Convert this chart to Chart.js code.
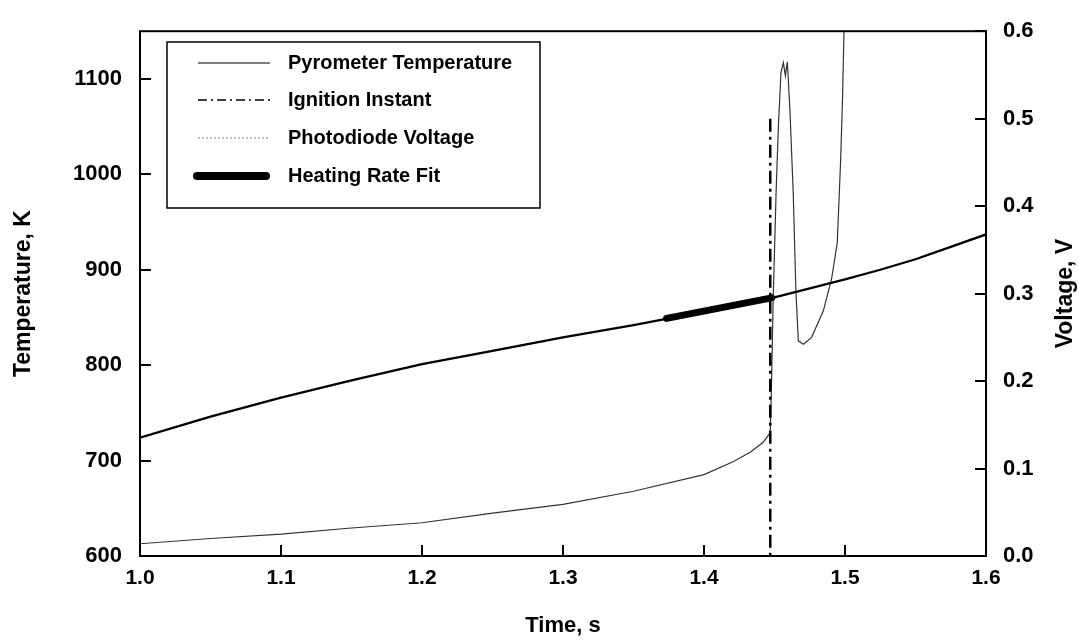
<!DOCTYPE html>
<html>
<head>
<meta charset="utf-8">
<script src="https://cdn.jsdelivr.net/npm/chart.js@4/dist/chart.umd.min.js"></script>
<style>
  html, body { margin: 0; padding: 0; background: #fff; }
  #wrap { width: 1079px; height: 641px; }
</style>
</head>
<body>
<div id="wrap"><canvas id="ignitionChart" width="1079" height="641"></canvas></div>
<script>
// pyrometer temperature, K
const tempTime = [1.00, 1.05, 1.10, 1.15, 1.20, 1.25, 1.30, 1.35, 1.40, 1.45, 1.50, 1.525, 1.55, 1.575, 1.60];
const tempValues = [724, 746, 766, 784, 801, 815, 829, 842, 856, 871, 890, 900, 911, 924, 937];

// photodiode voltage, V
const diodeTime = [1.000, 1.050, 1.100, 1.150, 1.200, 1.250, 1.300, 1.350, 1.400, 1.421, 1.433, 1.442, 1.447,
  1.4479, 1.4490, 1.4511, 1.4527, 1.4546, 1.4563, 1.4577, 1.4591, 1.4610, 1.4633, 1.4652, 1.4669,
  1.4705, 1.4763, 1.4846, 1.4905, 1.4945, 1.4969, 1.4983, 1.4993, 1.5000];
const diodeValues = [0.014, 0.020, 0.025, 0.032, 0.038, 0.049, 0.059, 0.074, 0.093, 0.108, 0.119, 0.130, 0.141,
  0.197, 0.290, 0.414, 0.489, 0.553, 0.564, 0.549, 0.565, 0.508, 0.414, 0.302, 0.246,
  0.242, 0.250, 0.280, 0.317, 0.358, 0.452, 0.526, 0.602, 0.680];

// heating rate fit (on temperature axis)
const fitTime = [1.3735, 1.448];
const fitValues = [849, 870.5];

// ignition instant marker (on voltage axis), drawn top-down
const ignitionTime = [1.447, 1.447];
const ignitionVolts = [0.5, 0];

const seriesLabels = ['Pyrometer Temperature', 'Ignition Instant', 'Photodiode Voltage', 'Heating Rate Fit'];

const toPoints = (xs, ys) => xs.map((x, i) => ({ x: x, y: ys[i] }));

const FONT = 'Arial, "Liberation Sans", Helvetica, sans-serif';
Chart.defaults.font.family = FONT;
Chart.defaults.font.weight = 'bold';
Chart.defaults.color = '#000';

// legend look for each entry (photodiode legend is drawn dotted/grey like the original)
const legendStyle = [
  { color: '#000', width: 1.2, dash: [] },
  { color: '#000', width: 1.5, dash: [9, 4, 2, 4] },
  { color: '#999', width: 1.2, dash: [2, 2] },
  { color: '#000', width: 8, dash: [] }
];

const framePlugin = {
  id: 'frame',
  afterDatasetsDraw(chart) {
    const { ctx, chartArea: a, scales } = chart;
    ctx.save();
    ctx.strokeStyle = '#000';
    ctx.lineWidth = 2;
    ctx.strokeRect(a.left, a.top, a.right - a.left, a.bottom - a.top);

    // inward tick marks
    ctx.beginPath();
    scales.x.ticks.forEach(t => {
      const px = Math.round(scales.x.getPixelForValue(t.value));
      ctx.moveTo(px, a.bottom); ctx.lineTo(px, a.bottom - 11);
    });
    scales.yT.ticks.forEach(t => {
      const py = Math.round(scales.yT.getPixelForValue(t.value));
      ctx.moveTo(a.left, py); ctx.lineTo(a.left + 11, py);
    });
    scales.yV.ticks.forEach(t => {
      const py = Math.round(scales.yV.getPixelForValue(t.value));
      ctx.moveTo(a.right, py); ctx.lineTo(a.right - 11, py);
    });
    ctx.stroke();

    // right axis title, reads bottom to top
    ctx.save();
    ctx.translate(1066, (a.top + a.bottom) / 2);
    ctx.rotate(-Math.PI / 2);
    ctx.font = 'bold 23px ' + FONT;
    ctx.fillStyle = '#000';
    ctx.textAlign = 'center';
    ctx.textBaseline = 'middle';
    ctx.fillText('Voltage, V', 0, 0);
    ctx.restore();

    // legend box
    const box = { x: 167, y: 42, w: 373, h: 166 };
    ctx.fillStyle = '#fff';
    ctx.fillRect(box.x, box.y, box.w, box.h);
    ctx.lineWidth = 1.5;
    ctx.strokeRect(box.x, box.y, box.w, box.h);
    const rows = [63, 100, 138, 176];
    ctx.font = 'bold 20px ' + FONT;
    ctx.textAlign = 'left';
    ctx.textBaseline = 'middle';
    seriesLabels.forEach((label, i) => {
      const st = legendStyle[i];
      ctx.beginPath();
      ctx.strokeStyle = st.color;
      ctx.lineWidth = st.width;
      ctx.lineCap = i === 3 ? 'round' : 'butt';
      ctx.setLineDash(st.dash);
      ctx.moveTo(i === 3 ? 197 : 198, rows[i]);
      ctx.lineTo(i === 3 ? 266 : 270, rows[i]);
      ctx.stroke();
      ctx.setLineDash([]);
      ctx.fillStyle = '#000';
      ctx.fillText(label, 288, rows[i]);
    });
    ctx.restore();
  }
};

new Chart(document.getElementById('ignitionChart'), {
  type: 'line',
  data: {
    datasets: [
      {
        label: seriesLabels[0],
        data: toPoints(tempTime, tempValues),
        yAxisID: 'yT',
        borderColor: '#000',
        borderWidth: 2.3,
        pointRadius: 0
      },
      {
        label: seriesLabels[1],
        data: toPoints(ignitionTime, ignitionVolts),
        yAxisID: 'yV',
        borderColor: '#000',
        borderWidth: 2.5,
        borderDash: [13, 5, 3, 5],
        pointRadius: 0
      },
      {
        label: seriesLabels[2],
        data: toPoints(diodeTime, diodeValues),
        yAxisID: 'yV',
        borderColor: '#333',
        borderWidth: 1.2,
        pointRadius: 0,
        clip: 0
      },
      {
        label: seriesLabels[3],
        data: toPoints(fitTime, fitValues),
        yAxisID: 'yT',
        borderColor: '#000',
        borderWidth: 7,
        borderCapStyle: 'round',
        pointRadius: 0
      }
    ]
  },
  options: {
    responsive: false,
    animation: false,
    layout: { padding: { top: 22, left: 0, right: 0, bottom: 0 } },
    plugins: { legend: { display: false }, tooltip: { enabled: false } },
    elements: { line: { tension: 0, fill: false } },
    scales: {
      x: {
        type: 'linear',
        position: 'bottom',
        min: 1.0,
        max: 1.6,
        grid: { display: false, drawTicks: false },
        border: { display: false },
        ticks: {
          stepSize: 0.1,
          autoSkip: false,
          maxRotation: 0,
          padding: 10,
          font: { size: 21, weight: 'bold' },
          callback: v => v.toFixed(1)
        },
        title: {
          display: true,
          text: 'Time, s',
          font: { size: 22, weight: 'bold' },
          padding: { top: 0, bottom: 2 }
        },
        afterFit: s => { s.height = 85; }
      },
      yT: {
        type: 'linear',
        position: 'left',
        min: 600,
        max: 1150,
        grid: { display: false, drawTicks: false },
        border: { display: false },
        ticks: {
          stepSize: 100,
          padding: 18,
          font: { size: 22, weight: 'bold' },
          callback: v => String(v)
        },
        afterBuildTicks: s => { s.ticks = s.ticks.filter(t => Math.abs(t.value % 100) < 1e-6); },
        title: {
          display: true,
          text: 'Temperature, K',
          font: { size: 23, weight: 'bold' },
          padding: { top: 10, bottom: 0 }
        },
        afterFit: s => { s.width = 140; }
      },
      yV: {
        type: 'linear',
        position: 'right',
        min: 0,
        max: 0.6,
        grid: { display: false, drawTicks: false },
        border: { display: false },
        ticks: {
          stepSize: 0.1,
          padding: 17,
          font: { size: 22, weight: 'bold' },
          callback: v => v.toFixed(1)
        },
        afterFit: s => { s.width = 93; }
      }
    }
  },
  plugins: [framePlugin]
});
</script>
</body>
</html>
